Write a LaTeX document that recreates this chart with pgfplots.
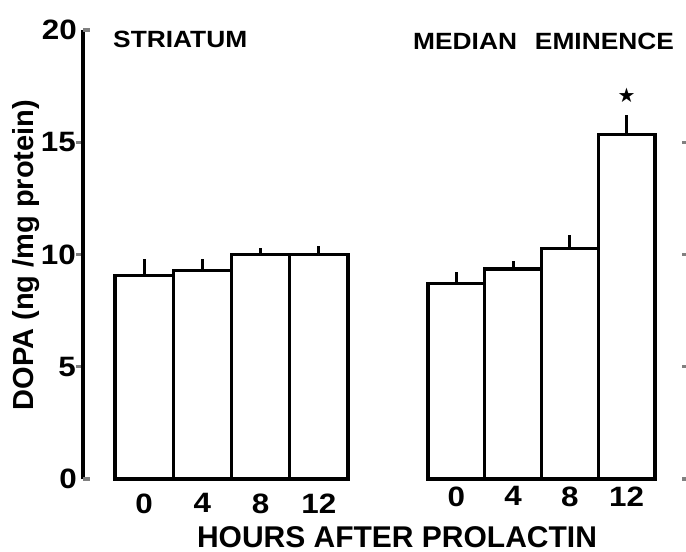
\documentclass[border=0pt]{standalone}
\usepackage{fontspec}
\setmainfont{Liberation Sans}
\newfontfamily\widefam{Liberation Sans}[FakeStretch=1.12]
\newfontfamily\symfam{DejaVu Sans}
\usepackage{pgfplots}
\usepackage{pgfplotstable}
\pgfplotsset{compat=1.18}
\newcommand\tickf{\widefam\bfseries\fontsize{28bp}{28bp}\selectfont}
\newcommand\titf{\widefam\bfseries\fontsize{23.5bp}{23.5bp}\selectfont}
\newcommand\labf{\bfseries\fontsize{30bp}{30bp}\selectfont}
\newcommand\ylabf{\bfseries\fontsize{29bp}{29bp}\selectfont}

\pgfplotstableread{
x y e
0 9.05 0.75
1 9.3 0.5
2 10.0 0.3
3 10.0 0.4
}\striatum
\pgfplotstableread{
x y e
0 8.7 0.5
1 9.35 0.35
2 10.25 0.6
3 15.35 0.85
}\median

\pgfplotsset{
  common/.style={
    scale only axis, height=449bp, ymin=0, ymax=20, clip=false,
    axis x line*=bottom, x axis line style={draw=none},
    xtick={0,1,2,3}, xticklabels={0,4,8,12}, xtick style={draw=none},
    ticklabel style={font=\tickf},
    /pgf/number format/assume math mode=true,
    xticklabel style={yshift=-4bp},
    y axis line style={line width=3.2bp},
    ytick style={line width=3.2bp},
  },
  mybars/.style={ybar, bar width=1, fill=white, draw=black, line width=3.2bp,
    error bars/.cd, y dir=plus, y explicit, error mark=none,
    error bar style={line width=3.2bp}},
}

\begin{document}
\begin{tikzpicture}
\begin{axis}[common, at={(83bp,73bp)}, anchor=south west, width=265bp,
  xmin=-1.049, xmax=3.5,
  axis y line*=left, ytick={5,10,15}, tick align=outside,
  major tick length=7bp,
  yticklabel style={inner sep=1bp, xshift=1bp},
  extra y ticks={0,20},
  extra y tick style={tick align=inside, yticklabel style={xshift=-6bp}}]
\addplot[mybars] table[x=x, y=y, y error=e] {\striatum};
\end{axis}
\begin{axis}[common, at={(428bp,73bp)}, anchor=south west, width=260bp,
  xmin=-0.5, xmax=4.081,
  axis y line*=right, ytick={0,5,10,15}, yticklabels={}, tick align=inside,
  major tick length=6bp]
\addplot[mybars] table[x=x, y=y, y error=e] {\median};
\node[font=\symfam\fontsize{20bp}{20bp}\selectfont] at (axis cs:3,17.1) {★};
\end{axis}
\node[font=\titf, anchor=base west, inner sep=0pt] at (113bp,504.5bp) {STRIATUM};
\node[font=\titf, anchor=base west, inner sep=0pt] at (413bp,502bp) {MEDIAN\hspace{18bp}EMINENCE};
\node[font=\labf, anchor=base, inner sep=0pt] at (397bp,5bp) {HOURS AFTER PROLACTIN};
\node[font=\ylabf, anchor=base, inner sep=0pt, rotate=90] at (33bp,297bp) {DOPA (ng /mg protein)};
\pgfresetboundingbox
\path[use as bounding box] (0,0) rectangle (686bp,552bp);
\end{tikzpicture}
\end{document}
